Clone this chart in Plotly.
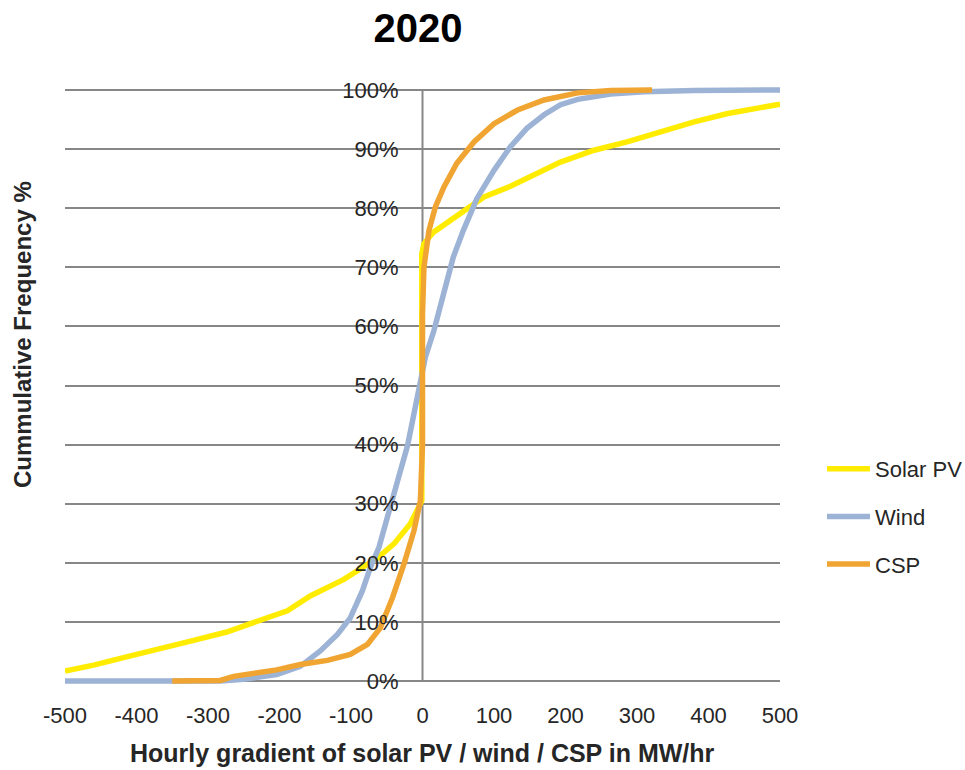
import plotly.graph_objects as go

# ---------------- data ----------------
solar_x = [-500, -460, -414, -367, -320, -274, -227, -189, -157, -110, -63, -40, -17, -3,
           -1, -1, 2, 15, 39, 63, 86, 123, 161, 193, 240, 286, 333, 380, 427, 473, 500]
solar_y = [1.7, 2.7, 4.1, 5.4, 6.9, 8.3, 10.2, 11.9, 14.4, 17.2, 20.8, 23.2, 26.6, 29.7,
           30.5, 72.3, 74.0, 75.9, 77.9, 79.9, 81.9, 83.7, 86.0, 87.8, 89.8, 91.2, 92.9,
           94.6, 96.0, 96.9, 97.6]

wind_x = [-500, -283, -250, -204, -171, -143, -119, -101, -84, -73, -61, -47, -35, -21, -12,
          -4, 4, 16, 37, 43, 57, 76, 100, 123, 146, 170, 193, 217, 263, 310, 380, 500]
wind_y = [0, 0, 0.3, 1.1, 2.5, 5.1, 7.9, 10.7, 15.3, 19.2, 22.6, 28.3, 33.8, 39.8, 45.2,
          50.3, 54.8, 59.3, 69.0, 71.7, 76.2, 81.6, 86.4, 90.4, 93.5, 95.8, 97.5, 98.4,
          99.3, 99.7, 99.9, 100]

csp_x = [-350, -283, -264, -236, -204, -171, -133, -101, -77, -59, -42, -26, -12, -3, 0, 0,
         2, 9, 18, 30, 48, 72, 100, 133, 170, 217, 263, 321]
csp_y = [0, 0.1, 0.8, 1.3, 1.9, 2.8, 3.5, 4.5, 6.2, 9.0, 14.1, 19.8, 25.4, 30.5, 40, 62,
         70, 76.2, 80.2, 83.6, 87.6, 91.2, 94.3, 96.6, 98.3, 99.5, 99.9, 100]

x_ticks = [-500, -400, -300, -200, -100, 0, 100, 200, 300, 400, 500]
y_ticks = [0, 10, 20, 30, 40, 50, 60, 70, 80, 90, 100]

series_names = ["Solar PV", "Wind", "CSP"]
colors = ["#FFEC00", "#9DB3D6", "#F0A532"]

# ---------------- figure ----------------
FONT = "Liberation Sans, Arial, sans-serif"
GRID = "#878787"
TXT = "#262626"

fig = go.Figure()
for i, (name, xs, ys) in enumerate(zip(series_names,
                                       [solar_x, wind_x, csp_x],
                                       [solar_y, wind_y, csp_y])):
    fig.add_trace(go.Scatter(
        x=xs, y=ys, name=name, mode="lines",
        line=dict(color=colors[i], width=5.5),
        legendgroup=f"g{i}",
    ))

# vertical axis line at x = 0
fig.add_shape(type="line", x0=0, x1=0, y0=0, y1=100, xref="x", yref="y",
              line=dict(color=GRID, width=2), layer="below")

fig.update_layout(
    width=965, height=770,
    margin=dict(l=65, r=185, t=84, b=83),
    paper_bgcolor="white", plot_bgcolor="white",
    font=dict(family=FONT, size=22, color=TXT),
    title=dict(text="<b>2020</b>", font=dict(family=FONT, size=40, color="black"),
               x=418 / 965, xref="container", xanchor="center",
               y=1 - 28 / 770, yref="container", yanchor="middle"),
    xaxis=dict(range=[-500, 500], tickvals=x_ticks, ticktext=[str(v) for v in x_ticks],
               showgrid=False, zeroline=False, showline=False, ticks="",
               tickfont=dict(family=FONT, size=22, color=TXT),
               ticklabelstandoff=13),
    yaxis=dict(range=[-1, 101], tickvals=y_ticks, ticktext=[f"{v}%" for v in y_ticks],
               showgrid=True, gridcolor=GRID, gridwidth=2, zeroline=False,
               showline=False, ticks="", anchor="free", position=0.5,
               tickfont=dict(family=FONT, size=22, color=TXT),
               ticklabelstandoff=24),
    legend=dict(xref="container", x=822 / 965, xanchor="left",
                yref="container", y=1 - 448 / 770, yanchor="top",
                font=dict(family=FONT, size=22, color=TXT),
                traceorder="grouped", tracegroupgap=16, itemwidth=43,
                bgcolor="rgba(0,0,0,0)"),
    showlegend=True,
)

fig.add_annotation(text="<b>Hourly gradient of solar PV / wind / CSP in MW/hr</b>",
                   xref="paper", yref="paper", x=(422 - 65) / 715, y=(687 - 753) / 603,
                   xanchor="center", yanchor="middle", showarrow=False,
                   font=dict(family=FONT, size=25, color=TXT))
fig.add_annotation(text="<b>Cummulative Frequency %</b>",
                   xref="paper", yref="paper", x=(22 - 65) / 715, y=(687 - 335) / 603,
                   xanchor="center", yanchor="middle", showarrow=False, textangle=-90,
                   font=dict(family=FONT, size=24, color=TXT))

fig.write_html("out.html", config={"displayModeBar": False},
               post_script="document.body.style.margin='0';")
